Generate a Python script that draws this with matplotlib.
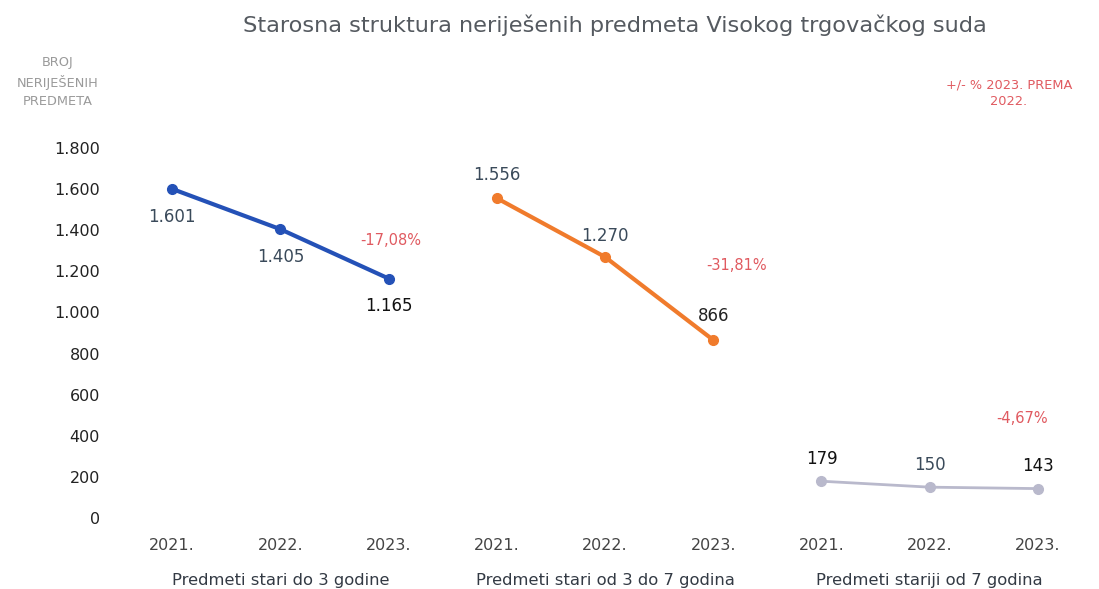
import matplotlib
matplotlib.use("Agg")
import matplotlib.pyplot as plt
import matplotlib.transforms as mtransforms

plt.rcParams['font.family'] = ['DejaVu Sans']

title = "Starosna struktura neriješenih predmeta Visokog trgovačkog suda"
years = ["2021.", "2022.", "2023."]
groups = ["Predmeti stari do 3 godine", "Predmeti stari od 3 do 7 godina", "Predmeti stariji od 7 godina"]
series_up_to_3 = [1601, 1405, 1165]
series_3_to_7 = [1556, 1270, 866]
series_over_7 = [179, 150, 143]
pct_change = ["-17,08%", "-31,81%", "-4,67%"]
yticks = [0, 200, 400, 600, 800, 1000, 1200, 1400, 1600, 1800]

colors = ["#2451b7", "#f07b2c", "#b9b9cc"]
lws = [3.0, 3.0, 2.0]
series = [series_up_to_3, series_3_to_7, series_over_7]

W, H = 1099, 589
fig = plt.figure(figsize=(W / 100, H / 100), dpi=100)
left, right = 118 / W, 1092 / W
bottom, top = (H - 518) / H, (H - 148) / H
ax = fig.add_axes([left, bottom, right - left, top - bottom])
ax.set_xlim(-0.5, 8.5)
ax.set_ylim(0, 1800)
for s in ax.spines.values():
    s.set_visible(False)
ax.set_yticks(yticks)
ax.set_yticklabels([f"{v:,}".replace(",", ".") for v in yticks])
ax.tick_params(axis='y', length=0, pad=13, labelsize=11.5, labelcolor="#222222")
ax.set_xticks([])


def fmt(v):
    return f"{v:,}".replace(",", ".")


# label offsets (points) relative to the point: (dx, dy)
label_offsets = [
    [(0, -20), (0, -20), (0, -20)],
    [(0, 17), (0, 15), (0, 17)],
    [(0, 16), (0, 16), (0, 16)],
]
label_colors = [
    ["#3a4a5a", "#3a4a5a", "#111111"],
    ["#3a4a5a", "#3a4a5a", "#222222"],
    ["#111111", "#3a4a5a", "#111111"],
]
pct_pos = [(2.02, 1350), (5.22, 1230), (7.85, 486)]

xtrans = mtransforms.blended_transform_factory(ax.transData, fig.transFigure)
for g, vals in enumerate(series):
    xs = [g * 3 + i for i in range(3)]
    ax.plot(xs, vals, color=colors[g], lw=lws[g], marker='o', markersize=7,
            solid_capstyle='round', clip_on=False, zorder=3)
    for i, (x, v) in enumerate(zip(xs, vals)):
        dx, dy = label_offsets[g][i]
        ax.annotate(fmt(v), (x, v), xytext=(dx, dy), textcoords='offset points',
                    ha='center', va='center', fontsize=12, color=label_colors[g][i])
        ax.text(x, (H - 545) / H, years[i], transform=xtrans, ha='center', va='center',
                fontsize=11.5, color="#444444")
    ax.text(g * 3 + 1, (H - 580) / H, groups[g], transform=xtrans, ha='center', va='center',
            fontsize=11.8, color="#333a44")
    px, py = pct_pos[g]
    ax.text(px, py, pct_change[g], ha='center', va='center', fontsize=10.5, color="#e05a60")

fig.text(615 / W, (H - 25) / H, title, ha='center', va='center', fontsize=16.2, color="#555a60")
fig.text(58 / W, (H - 82) / H, "BROJ\nNERIJEŠENIH\nPREDMETA", ha='center', va='center',
         fontsize=9.3, color="#9a9a9a", linespacing=1.5)
fig.text(1009 / W, (H - 93) / H, "+/- % 2023. PREMA\n2022.", ha='center', va='center',
         fontsize=9.3, color="#e05a60", linespacing=1.4)

fig.savefig("out.png", dpi=100, facecolor="white")
